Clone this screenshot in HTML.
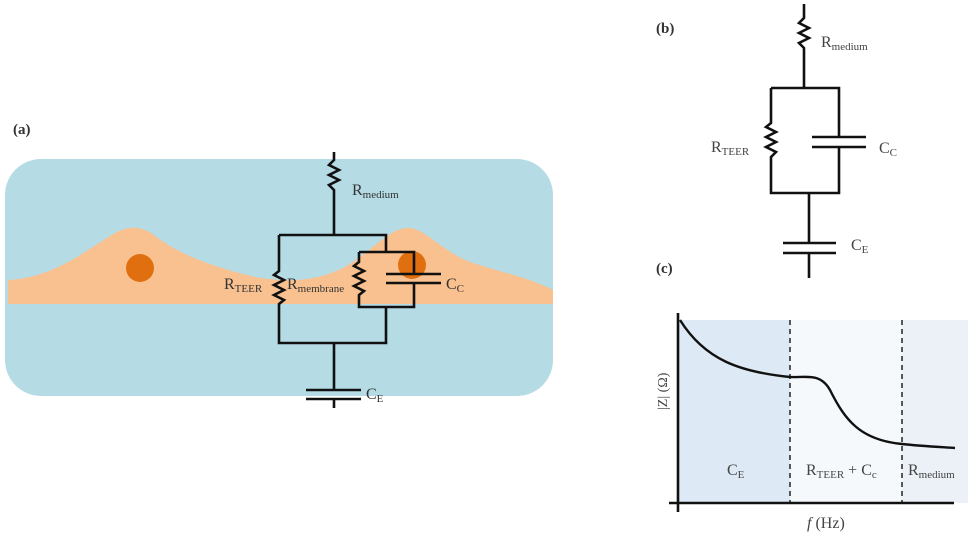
<!DOCTYPE html>
<html><head><meta charset="utf-8"><style>
html,body{margin:0;padding:0;background:#fff;}
svg{display:block;font-family:"Liberation Serif",serif;}
</style></head><body>
<svg width="979" height="550" viewBox="0 0 979 550" xmlns="http://www.w3.org/2000/svg">
<!-- Panel a -->
<text x="13" y="134" font-size="15" font-weight="bold" fill="#333">(a)</text>
<rect x="5" y="159" width="548" height="237" rx="36" fill="#b5dbe5"/>
<path d="M8,280 C50,278 80,255 110,236 C125,226 140,224 155,236 C180,255 215,268 260,278 C290,282 320,282 350,264 C375,248 390,228 408,228 C425,228 440,250 470,262 C500,272 530,278 553,290 L553,304 L8,304 Z" fill="#f9c18f"/>
<circle cx="140" cy="268" r="14" fill="#e06f10"/>
<circle cx="412" cy="265" r="14" fill="#e06f10"/>
<g stroke="#111" stroke-width="2.6" fill="none">
<path d="M334,152 L334,160 L329,165 L339,170 L329,175 L339,180 L329,185 L334,190 L334,235"/>
<path d="M279,235 L386,235 L386,252"/>
<path d="M279,235 L279,271 L274,275 L284,280 L274,285 L284,290 L274,295 L284,300 L279,304 L279,343 L386,343 L386,307"/>
<path d="M359,252 L414,252 L414,274"/>
<path d="M359,252 L359,262 L354,266 L364,271 L354,276 L364,281 L354,286 L364,291 L359,295 L359,307 L414,307 L414,283"/>
<path d="M386,274 L441,274 M386,283 L441,283"/>
<path d="M334,343 L334,390 M306,390 L361,390 M306,399 L361,399 M334,399 L334,408"/>
</g>
<g fill="#333" font-size="16">
<text x="352" y="195">R<tspan font-size="11" dy="3">medium</tspan></text>
<text x="224" y="289">R<tspan font-size="11" dy="3">TEER</tspan></text>
<text x="287" y="289">R<tspan font-size="11" dy="3">membrane</tspan></text>
<text x="446" y="289">C<tspan font-size="11" dy="3">C</tspan></text>
<text x="366" y="399">C<tspan font-size="11" dy="3">E</tspan></text>
</g>
<!-- Panel b -->
<text x="656" y="33" font-size="15" font-weight="bold" fill="#333">(b)</text>
<g stroke="#111" stroke-width="2.6" fill="none">
<path d="M804,4 L804,18 L799,23 L809,28 L799,33 L809,38 L799,43 L804,48 L804,88"/>
<path d="M771,88 L839,88 L839,137"/>
<path d="M771,88 L771,123 L766,127 L776,132 L766,137 L776,142 L766,147 L776,152 L771,157 L771,193 L839,193 L839,147"/>
<path d="M812,137 L866,137 M812,147 L866,147"/>
<path d="M809,193 L809,243 M783,243 L836,243 M783,253 L836,253 M809,253 L809,278"/>
</g>
<g fill="#444" font-size="16">
<text x="821" y="47">R<tspan font-size="11" dy="3">medium</tspan></text>
<text x="711" y="152">R<tspan font-size="11" dy="3">TEER</tspan></text>
<text x="879" y="153">C<tspan font-size="11" dy="3">C</tspan></text>
<text x="851" y="250">C<tspan font-size="11" dy="3">E</tspan></text>
</g>
<text x="656" y="273" font-size="15" font-weight="bold" fill="#333">(c)</text>
<!-- Panel c -->
<rect x="679" y="320" width="111" height="183" fill="#dde9f4"/>
<rect x="790" y="320" width="112" height="183" fill="#f6f9fc"/>
<rect x="902" y="320" width="66" height="183" fill="#ebf1f7"/>
<g stroke="#222" stroke-width="1.5" stroke-dasharray="5,4">
<line x1="790" y1="320" x2="790" y2="503"/>
<line x1="902" y1="320" x2="902" y2="503"/>
</g>
<g stroke="#111" stroke-width="2.6" fill="none">
<line x1="678" y1="313" x2="678" y2="512"/>
<line x1="669" y1="503" x2="954" y2="503"/>
<path d="M680,320 C705,360 740,372 790,377 C805,378 820,372 830,390 C845,420 860,440 902,444 C920,446 940,447 955,448" stroke-width="2.4"/>
</g>
<g fill="#444" font-size="16">
<text x="727" y="475">C<tspan font-size="11" dy="3">E</tspan></text>
<text x="806" y="475">R<tspan font-size="11" dy="3">TEER</tspan><tspan dy="-3"> + C</tspan><tspan font-size="11" dy="3">c</tspan></text>
<text x="908" y="475">R<tspan font-size="11" dy="3">medium</tspan></text>
<text x="807" y="528"><tspan font-style="italic">f</tspan> (Hz)</text>
<text transform="translate(667,410) rotate(-90)" font-size="14">|Z| (Ω)</text>
</g>
</svg>
</body></html>
